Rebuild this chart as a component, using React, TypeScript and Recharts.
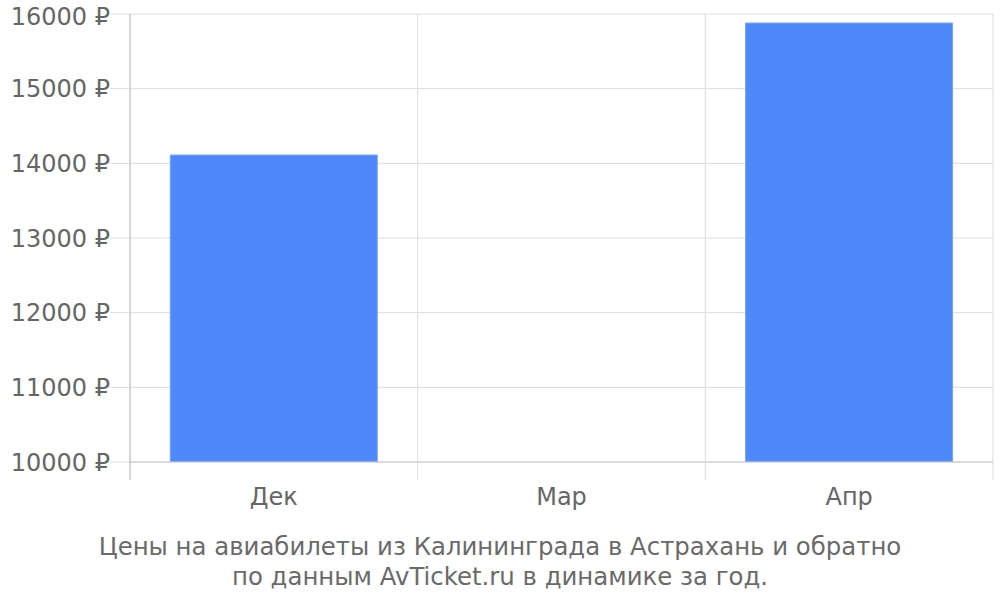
import { BarChart, Bar, XAxis, YAxis, CartesianGrid } from "recharts"

const months = ["Дек", "Мар", "Апр"]
const prices: Array<number | null> = [14111, null, 15879]
const yTicks = [10000, 11000, 12000, 13000, 14000, 15000, 16000]
const captionLines = [
  "Цены на авиабилеты из Калининграда в Астрахань и обратно",
  "по данным AvTicket.ru в динамике за год.",
]

const data = months.map((month, i) => ({ month, price: prices[i] }))

const FONT = "'DejaVu Sans', sans-serif"
const LEFT = 130
const RIGHT = 993
const BAND = (RIGHT - LEFT) / months.length

function MonthTick(props: any) {
  const { x, y, payload, index } = props
  const left = x - BAND / 2
  return (
    <g>
      <line x1={left} y1={y} x2={left} y2={y + 18} stroke={index === 0 ? "#aaa" : "#ddd"} />
      {index === months.length - 1 && (
        <line x1={x + BAND / 2} y1={y} x2={x + BAND / 2} y2={y + 18} stroke="#ddd" />
      )}
      <text x={x} y={y + 43} textAnchor="middle" fill="#666" fontSize={24} fontFamily={FONT}>
        {payload.value}
      </text>
    </g>
  )
}

export default function App() {
  return (
    <div style={{ position: "absolute", left: 0, top: 0, width: 1000, height: 600, background: "#fff" }}>
      <BarChart
        width={1000}
        height={600}
        data={data}
        margin={{ top: 14, right: 7, bottom: 0, left: 0 }}
        barCategoryGap="14%"
      >
        <CartesianGrid
          stroke="#ddd"
          verticalCoordinatesGenerator={() => [LEFT + BAND, LEFT + 2 * BAND, RIGHT]}
        />
        <XAxis
          dataKey="month"
          axisLine={{ stroke: "#c8c8c8" }}
          tickLine={false}
          tickSize={0}
          tickMargin={0}
          tick={<MonthTick />}
          interval={0}
          height={138}
        />
        <YAxis
          domain={[10000, 16000]}
          ticks={yTicks}
          width={130}
          axisLine={{ stroke: "#aaa" }}
          tickLine={{ stroke: "#ddd" }}
          tickSize={20}
          tickMargin={0}
          tick={{ fill: "#666", fontSize: 24, fontFamily: FONT }}
          tickFormatter={(v) => `${v} ₽`}
          allowDataOverflow
        />
        <Bar dataKey="price" fill="#4d89f9" stroke="#76a2fa" strokeWidth={1} isAnimationActive={false} />
      </BarChart>
      <div
        style={{
          position: "absolute",
          left: 0,
          top: 532,
          width: 1000,
          textAlign: "center",
          fontFamily: FONT,
          fontSize: 24.4,
          lineHeight: "30px",
          color: "#6a6a6a",
        }}
      >
        {captionLines.map((l) => (
          <div key={l}>{l}</div>
        ))}
      </div>
    </div>
  )
}
